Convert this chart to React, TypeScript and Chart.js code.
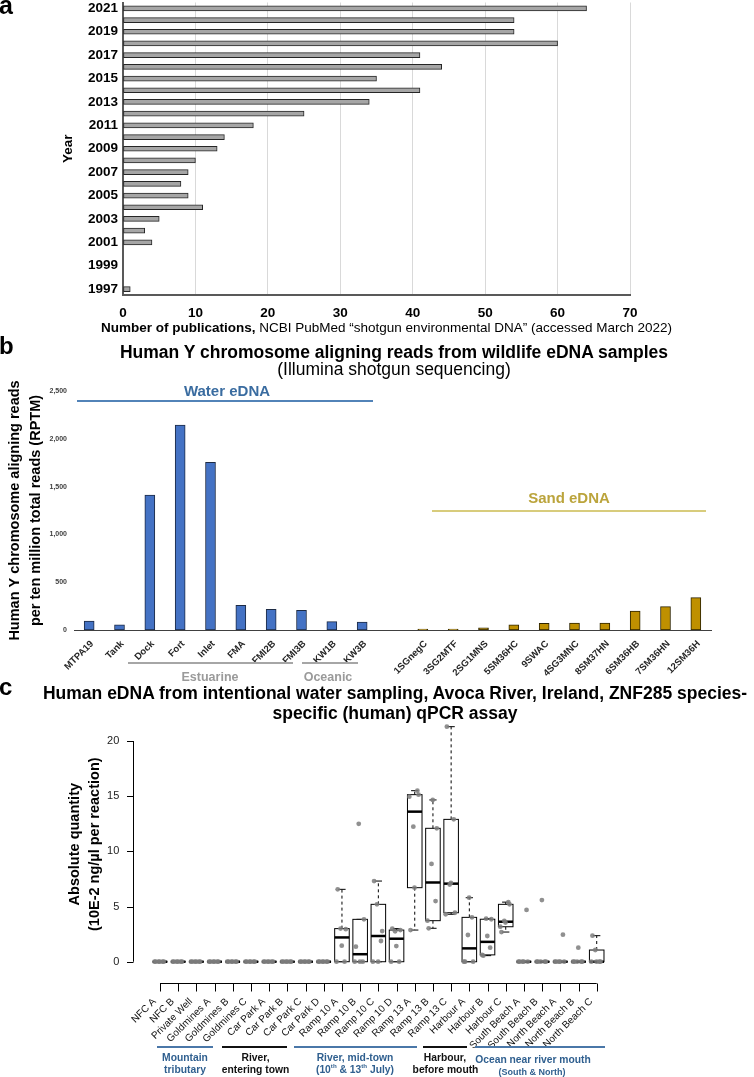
import React, { useEffect, useRef } from 'react';
import { Chart, registerables } from 'chart.js';

Chart.register(...registerables);

const FONT = "'Liberation Sans', Arial, Helvetica, sans-serif";
Chart.defaults.font.family = FONT;

// ---------------- Panel a: publications per year ----------------
const yearLabels = [
  '2021', '2020', '2019', '2018', '2017', '2016', '2015', '2014', '2013', '2012', '2011', '2010', '2009',
  '2008', '2007', '2006', '2005', '2004', '2003', '2002', '2001', '2000', '1999', '1998', '1997',
];
const publicationCounts = [64, 54, 54, 60, 41, 44, 35, 41, 34, 25, 18, 14, 13, 10, 9, 8, 9, 11, 5, 3, 4, 0, 0, 0, 1];
const publicationAxisMax = 70;
const publicationStep = 10;

// ---------------- Panel b: Human Y chromosome RPTM ----------------
const sampleLabels = [
  'MTPA19', 'Tank', 'Dock', 'Fort', 'Inlet', 'FMA', 'FMI2B', 'FMI3B', 'KW1B', 'KW3B', '',
  '1SGnegC', '3SG2MTF', '2SG1MNS', '5SM36HC', '9SWAC', '4SG3MNC', '8SM37HN', '6SM36HB', '7SM36HN', '12SM36H',
];
const waterRPTM: (number | null)[] = [94, 55, 1412, 2144, 1754, 258, 216, 206, 87, 84, null,
  null, null, null, null, null, null, null, null, null, null];
const sandRPTM: (number | null)[] = [null, null, null, null, null, null, null, null, null, null, null,
  10, 10, 24, 55, 70, 73, 73, 199, 244, 338];
const rptmAxisMax = 2500;
const rptmStep = 500;

// ---------------- Panel c: ZNF285 qPCR absolute quantity ----------------
const siteLabels = [
  'NFC A', 'NFC B', 'Private Well', 'Goldmines A', 'Goldmines B', 'Goldmines C', 'Car Park A', 'Car Park B',
  'Car Park C', 'Car Park D', 'Ramp 10 A', 'Ramp 10 B', 'Ramp 10 C', 'Ramp 10 D', 'Ramp 13 A', 'Ramp 13 B',
  'Ramp 13 C', 'Harbour A', 'Harbour B', 'Harbour C', 'South Beach A', 'South Beach B', 'North Beach A',
  'North Beach B', 'North Beach C',
];
const siteQuantities: number[][] = [
  [0, 0, 0, 0, 0, 0],
  [0, 0, 0, 0, 0, 0],
  [0, 0, 0, 0, 0, 0],
  [0, 0, 0, 0, 0, 0],
  [0, 0, 0, 0, 0, 0],
  [0, 0, 0, 0, 0, 0],
  [0, 0, 0, 0, 0, 0],
  [0, 0, 0, 0, 0, 0],
  [0, 0, 0, 0, 0, 0],
  [0, 0, 0, 0, 0, 0],
  [0, 3.0, 0, 6.56, 1.45, 2.95],
  [0, 12.5, 0, 1.36, 0, 3.84],
  [0, 5.2, 1.88, 7.31, 0, 2.78],
  [0, 2.75, 0, 3.0, 1.42, 2.87],
  [14.96, 12.24, 15.5, 2.87, 6.71, 15.14],
  [3.72, 8.86, 5.5, 3.03, 14.66, 12.09],
  [4.3, 7.0, 12.9, 21.3, 7.15, 4.44],
  [0, 2.42, 4.02, 0, 5.8, 0],
  [0.62, 3.9, 1.27, 0.55, 2.33, 3.85],
  [3.17, 3.7, 5.4, 2.69, 3.55, 5.2],
  [0, 0, 4.69, 0, 0, 0],
  [0, 0, 0, 0, 5.59, 0],
  [0, 0, 2.45, 0, 0, 0],
  [0, 0, 0, 0, 1.27, 0],
  [0, 1.06, 0, 2.36, 0, 0],
];
const quantityTicks = [0, 5, 10, 15, 20];
const quantityMin = -0.85;
const quantityMax = 22.15;

// ---------------- helpers ----------------
const fixSize = (w?: number, h?: number) => (s: any) => {
  if (w !== undefined) s.width = w;
  if (h !== undefined) s.height = h;
  s.paddingLeft = 0;
  s.paddingRight = 0;
  s.paddingTop = 0;
  s.paddingBottom = 0;
};

function fivenum(v: number[]) {
  const x = [...v].sort((a, b) => a - b);
  const n = x.length;
  const n4 = Math.floor((n + 3) / 2) / 2;
  const d = [1, n4, (n + 1) / 2, n + 1 - n4, n];
  return d.map((di) => 0.5 * (x[Math.floor(di) - 1] + x[Math.ceil(di) - 1]));
}

function boxStats(v: number[]) {
  const [, h1, med, h3] = fivenum(v);
  const iqr = h3 - h1;
  const inside = v.filter((a) => a >= h1 - 1.5 * iqr && a <= h3 + 1.5 * iqr);
  return { lo: Math.min(...inside), q1: h1, med, q3: h3, hi: Math.max(...inside) };
}

const jitter = (j: number) => (((j * 0.37) % 1) - 0.5) * 0.6;

const Txt = ({ x, y, size, bold = true, color = '#000', align = 'center', children }: any) => (
  <div
    style={{
      position: 'absolute',
      left: x,
      top: y,
      transform: align === 'center' ? 'translate(-50%,-50%)' : 'translate(0,-50%)',
      fontFamily: FONT,
      fontSize: size,
      fontWeight: bold ? 700 : 400,
      color,
      lineHeight: 1,
      whiteSpace: 'nowrap',
    }}
  >
    {children}
  </div>
);

const HLine = ({ x1, x2, y, color, w = 2 }: any) => (
  <div style={{ position: 'absolute', left: x1, top: y - w / 2, width: x2 - x1, height: w, background: color }} />
);

function useChart(ref: React.RefObject<HTMLCanvasElement>, make: () => any) {
  useEffect(() => {
    const chart = new Chart(ref.current as HTMLCanvasElement, make());
    return () => chart.destroy();
  }, []);
}

// ---------------- Panel a chart ----------------
function PanelA() {
  const ref = useRef<HTMLCanvasElement>(null);
  useChart(ref, () => ({
    type: 'bar',
    data: {
      labels: yearLabels,
      datasets: [
        {
          data: publicationCounts,
          backgroundColor: '#a6a6a6',
          borderColor: '#262626',
          borderWidth: 1,
          borderSkipped: false,
          barThickness: 5,
        },
      ],
    },
    options: {
      indexAxis: 'y',
      animation: false,
      responsive: false,
      layout: { padding: { top: 2.5, right: 124, left: 0, bottom: 0 } },
      plugins: { legend: { display: false }, tooltip: { enabled: false } },
      scales: {
        x: {
          min: 0,
          max: publicationAxisMax,
          ticks: { stepSize: publicationStep, font: { size: 13.5, weight: 'bold' }, color: '#000', padding: 10 },
          grid: { color: '#d9d9d9', drawTicks: false, lineWidth: 1 },
          border: { display: true, color: '#595959', width: 2 },
          afterFit: fixSize(undefined, 45),
        },
        y: {
          ticks: {
            autoSkip: false,
            callback: (_v: any, i: number) => (i % 2 === 0 ? yearLabels[i] : ''),
            font: { size: 13.5, weight: 'bold' },
            color: '#000',
            padding: 5,
          },
          grid: { display: false, drawTicks: false },
          border: { display: true, color: '#595959', width: 2 },
          title: {
            display: true,
            text: 'Year',
            font: { size: 13.5, weight: 'bold' },
            color: '#000',
            padding: { top: 60, bottom: 0 },
          },
          afterFit: fixSize(123, undefined),
        },
      },
    },
  }));
  return <canvas ref={ref} width={754} height={340} style={{ position: 'absolute', left: 0, top: 0 }} />;
}

// ---------------- Panel b chart ----------------
function PanelB() {
  const ref = useRef<HTMLCanvasElement>(null);
  useChart(ref, () => ({
    type: 'bar',
    data: {
      labels: sampleLabels,
      datasets: [
        {
          data: waterRPTM,
          backgroundColor: '#4472C4',
          borderColor: '#1d2b45',
          borderWidth: 1,
          borderSkipped: false,
          barThickness: 10,
          grouped: false,
        },
        {
          data: sandRPTM,
          backgroundColor: '#BF9000',
          borderColor: '#2e2400',
          borderWidth: 1,
          borderSkipped: false,
          barThickness: 10,
          grouped: false,
        },
      ],
    },
    options: {
      animation: false,
      responsive: false,
      layout: { padding: { top: 11, right: 43, left: 0, bottom: 0 } },
      plugins: { legend: { display: false }, tooltip: { enabled: false } },
      scales: {
        x: {
          ticks: {
            autoSkip: false,
            maxRotation: 45,
            minRotation: 45,
            font: { size: 9.5, weight: 'bold' },
            color: '#262626',
            padding: 8.3,
            labelOffset: 3,
          },
          grid: { display: false, drawTicks: false },
          border: { display: true, color: '#404040', width: 1 },
          afterFit: fixSize(undefined, 60),
        },
        y: {
          min: 0,
          max: rptmAxisMax,
          ticks: {
            stepSize: rptmStep,
            callback: (v: any) => Number(v).toLocaleString('en-US'),
            font: { size: 7, weight: 'bold' },
            color: '#404040',
            padding: 7,
          },
          grid: { display: false, drawTicks: false },
          border: { display: false },
          title: {
            display: true,
            text: ['Human Y chromosome aligning reads', 'per ten million total reads (RPTM)'],
            font: { size: 14.5, weight: 'bold', lineHeight: 1.48 },
            color: '#000',
            padding: { top: 4.3, bottom: 0 },
          },
          afterFit: fixSize(74, undefined),
        },
      },
    },
  }));
  return <canvas ref={ref} width={754} height={310} style={{ position: 'absolute', left: 0, top: 380 }} />;
}

// ---------------- Panel c chart ----------------
const rBoxPlugin = {
  id: 'rBoxes',
  beforeDatasetsDraw(chart: any) {
    const { ctx, scales } = chart;
    const x = scales.x;
    const y = scales.y;
    const unit = x.getPixelForValue(2) - x.getPixelForValue(1);
    const half = unit * 0.4;
    const cap = half * 0.5;
    const py = (v: number) => y.getPixelForValue(v);
    ctx.save();
    siteQuantities.forEach((vals, i) => {
      const s = boxStats(vals);
      const cx = x.getPixelForValue(i + 1);
      ctx.strokeStyle = '#000';
      ctx.lineWidth = 1;
      ctx.setLineDash([3, 3]);
      ctx.beginPath();
      ctx.moveTo(cx, py(s.q3));
      ctx.lineTo(cx, py(s.hi));
      ctx.moveTo(cx, py(s.q1));
      ctx.lineTo(cx, py(s.lo));
      ctx.stroke();
      ctx.setLineDash([]);
      ctx.beginPath();
      ctx.moveTo(cx - cap, py(s.hi));
      ctx.lineTo(cx + cap, py(s.hi));
      ctx.moveTo(cx - cap, py(s.lo));
      ctx.lineTo(cx + cap, py(s.lo));
      ctx.stroke();
      ctx.fillStyle = '#fff';
      ctx.fillRect(cx - half, py(s.q3), 2 * half, py(s.q1) - py(s.q3));
      ctx.strokeRect(cx - half, py(s.q3), 2 * half, py(s.q1) - py(s.q3));
      ctx.lineWidth = 2.5;
      ctx.beginPath();
      ctx.moveTo(cx - half, py(s.med));
      ctx.lineTo(cx + half, py(s.med));
      ctx.stroke();
    });
    ctx.restore();
  },
  afterDraw(chart: any) {
    const { ctx, scales, chartArea } = chart;
    const x = scales.x;
    const y = scales.y;
    ctx.save();
    ctx.strokeStyle = '#000';
    ctx.lineWidth = 1;
    ctx.beginPath();
    const ax = Math.round(chartArea.left) + 0.5;
    ctx.moveTo(ax, y.getPixelForValue(quantityTicks[0]));
    ctx.lineTo(ax, y.getPixelForValue(quantityTicks[quantityTicks.length - 1]));
    quantityTicks.forEach((v) => {
      const p = Math.round(y.getPixelForValue(v)) + 0.5;
      ctx.moveTo(ax - 6.5, p);
      ctx.lineTo(ax, p);
    });
    const ay = Math.round(chartArea.bottom + 12.2) + 0.5;
    ctx.moveTo(x.getPixelForValue(1), ay);
    ctx.lineTo(x.getPixelForValue(siteLabels.length), ay);
    siteLabels.forEach((_l, i) => {
      const p = Math.round(x.getPixelForValue(i + 1)) + 0.5;
      ctx.moveTo(p, ay);
      ctx.lineTo(p, ay + 8);
    });
    ctx.stroke();
    ctx.restore();
  },
};

function PanelC() {
  const ref = useRef<HTMLCanvasElement>(null);
  useChart(ref, () => ({
    type: 'scatter',
    data: {
      datasets: [
        {
          data: siteQuantities.flatMap((vals, i) => vals.map((v, j) => ({ x: i + 1 + jitter(j), y: v }))),
          pointRadius: 2.4,
          pointBackgroundColor: 'rgba(125,125,125,0.85)',
          pointBorderWidth: 0,
        },
      ],
    },
    plugins: [rBoxPlugin],
    options: {
      animation: false,
      responsive: false,
      layout: { padding: { top: 17.3, right: 130, left: 0, bottom: 0 } },
      plugins: { legend: { display: false }, tooltip: { enabled: false } },
      scales: {
        x: {
          type: 'linear',
          min: -0.5,
          max: siteLabels.length + 1.5,
          afterBuildTicks: (s: any) => {
            s.ticks = siteLabels.map((_l, i) => ({ value: i + 1 }));
          },
          ticks: {
            autoSkip: false,
            maxRotation: 45,
            minRotation: 45,
            callback: (v: any) => siteLabels[Math.round(Number(v)) - 1] ?? '',
            font: { size: 10 },
            color: '#111',
            padding: 24.7,
            labelOffset: -5.5,
          },
          grid: { display: false, drawTicks: false },
          border: { display: false },
          afterFit: fixSize(undefined, 105.9),
        },
        y: {
          min: quantityMin,
          max: quantityMax,
          afterBuildTicks: (s: any) => {
            s.ticks = quantityTicks.map((v) => ({ value: v }));
          },
          ticks: { font: { size: 11 }, color: '#222', padding: 13.4 },
          grid: { display: false, drawTicks: false },
          border: { display: false },
          title: {
            display: true,
            text: ['Absolute quantity', '(10E-2 ng/µl per reaction)'],
            font: { size: 14.5, weight: 'bold', lineHeight: 1.38 },
            color: '#000',
            padding: { top: 65, bottom: 0 },
          },
          afterFit: fixSize(132.7, undefined),
        },
      },
    },
  }));
  return <canvas ref={ref} width={754} height={377} style={{ position: 'absolute', left: 0, top: 700 }} />;
}

const BLUE_TXT = '#2f5f8f';
const BLUE_LINE = '#4a77a8';

export default function App() {
  return (
    <div
      style={{
        position: 'absolute',
        left: 0,
        top: 0,
        width: 754,
        height: 1077,
        overflow: 'hidden',
        background: '#fff',
        fontFamily: FONT,
      }}
    >
      <PanelA />
      <PanelB />
      <PanelC />

      {/* Panel a texts */}
      <Txt x={-1} y={4.8} size={25} align="left">a</Txt>
      <Txt x={386.5} y={328} size={13.5} bold={false}>
        <b>Number of publications,</b> NCBI PubMed “shotgun environmental DNA” (accessed March 2022)
      </Txt>

      {/* Panel b texts */}
      <Txt x={-1} y={345.5} size={24} align="left">b</Txt>
      <Txt x={394} y={353} size={17.5}>Human Y chromosome aligning reads from wildlife eDNA samples</Txt>
      <Txt x={394} y={370} size={17.5} bold={false}>(Illumina shotgun sequencing)</Txt>
      <Txt x={227} y={389.8} size={15} color="#3a6ca0">Water eDNA</Txt>
      <HLine x1={77} x2={373} y={400.7} color="#5283b8" />
      <Txt x={569} y={496.5} size={15} color="#bba43c">Sand eDNA</Txt>
      <HLine x1={432} x2={706} y={510.7} color="#d8cc7c" />
      <HLine x1={128} x2={293} y={663.3} color="#a6a6a6" />
      <HLine x1={302} x2={358} y={663.3} color="#a6a6a6" />
      <Txt x={210} y={677.4} size={12.5} color="#9a9a9a">Estuarine</Txt>
      <Txt x={328} y={677.4} size={12.5} color="#9a9a9a">Oceanic</Txt>

      {/* Panel c texts */}
      <Txt x={-1} y={686.5} size={24} align="left">c</Txt>
      <Txt x={395} y={694} size={17.5}>
        Human eDNA from intentional water sampling, Avoca River, Ireland, ZNF285 species-
      </Txt>
      <Txt x={395} y={713.5} size={17.5}>specific (human) qPCR assay</Txt>

      <HLine x1={157} x2={213} y={1047} color={BLUE_LINE} />
      <HLine x1={222} x2={287} y={1047} color="#111" />
      <HLine x1={294} x2={417} y={1047} color={BLUE_LINE} />
      <HLine x1={423} x2={467} y={1047} color="#111" />
      <HLine x1={475} x2={605} y={1047} color={BLUE_LINE} />

      <Txt x={185} y={1058} size={10.3} color={BLUE_TXT}>Mountain</Txt>
      <Txt x={185} y={1070} size={10.3} color={BLUE_TXT}>tributary</Txt>
      <Txt x={255.5} y={1058} size={10.3} color="#111">River,</Txt>
      <Txt x={255.5} y={1070} size={10.3} color="#111">entering town</Txt>
      <Txt x={355} y={1058} size={10.3} color={BLUE_TXT}>River, mid-town</Txt>
      <Txt x={355} y={1070} size={10.3} color={BLUE_TXT}>
        (10<sup style={{ fontSize: '0.6em', lineHeight: 0 }}>th</sup> &amp; 13
        <sup style={{ fontSize: '0.6em', lineHeight: 0 }}>th</sup> July)
      </Txt>
      <Txt x={445} y={1058} size={10.3} color="#111">Harbour,</Txt>
      <Txt x={445.5} y={1070} size={10.3} color="#111">before mouth</Txt>
      <Txt x={533} y={1060.4} size={10.3} color={BLUE_TXT}>Ocean near river mouth</Txt>
      <Txt x={532} y={1071.5} size={9} color={BLUE_TXT}>(South &amp; North)</Txt>
    </div>
  );
}
